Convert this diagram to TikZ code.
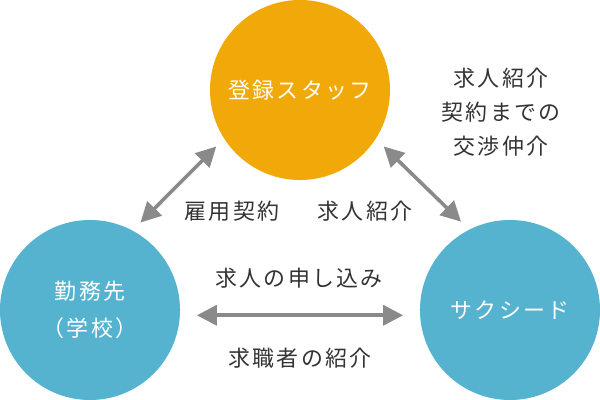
\documentclass[tikz,border=0pt]{standalone}
\usepackage{fontspec}
\setmainfont{Noto Sans CJK JP}[LetterSpace=10]
\usetikzlibrary{arrows.meta}
\definecolor{staffcolor}{HTML}{F1A90A}
\definecolor{partycolor}{HTML}{56B3D0}
\definecolor{arrowgray}{HTML}{8A8A8A}
\definecolor{textgray}{HTML}{333333}
\tikzset{
	party/.style={circle, fill=#1, minimum size=4.5cm, inner sep=0pt, outer sep=7.8pt,
		text=white, align=center, font=\fontsize{15.6}{26}\selectfont},
	relation/.style={text=textgray, align=center, font=\fontsize{15.6}{24.2}\selectfont},
	link/.style={arrowgray, line width=0.09cm, <->},
}
\begin{document}
\begin{tikzpicture}[x=0.025cm, y=-0.025cm, >={Triangle[length=0.5cm,width=0.5cm]}]
			\useasboundingbox (0,0) rectangle (600,400);
			\node[party=staffcolor] (staff) at (300,90) {登録スタッフ};
			\node[party=partycolor] (school) at (90,310) {勤務先\\（学校）};
			\node[party=partycolor] (sakushido) at (510,310) {サクシード};
			\draw[link] (school.60) -- (staff.214);
			\draw[link] (staff.326) -- (sakushido.119);
			\draw[link, shorten <=0.15cm, shorten >=0.15cm] (school.-3) -- (sakushido.183);
			\node[relation] (contract) at (232,211) {雇用契約};
			\node[relation] (referral) at (365,211) {求人紹介};
			\node[relation] (mediation) at (501,112) {求人紹介\\契約までの\\交渉仲介};
			\node[relation] (offer) at (299,278) {求人の申し込み};
			\node[relation] (intro) at (300,358) {求職者の紹介};
		\end{tikzpicture}
\end{document}
